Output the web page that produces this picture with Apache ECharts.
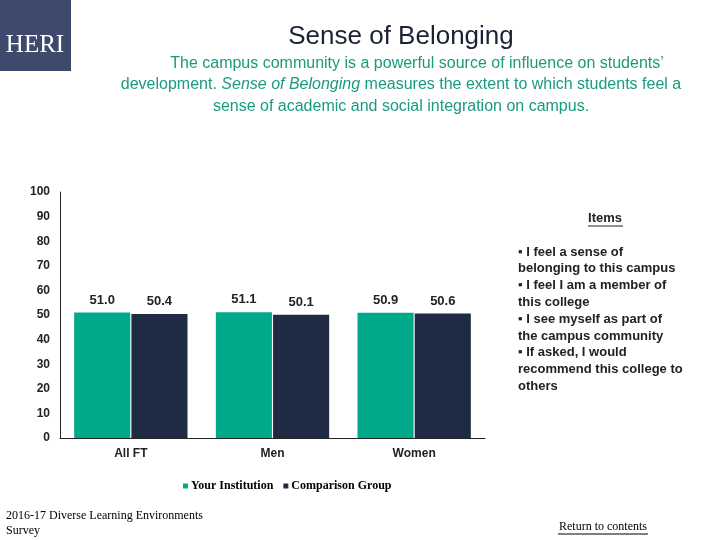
<!DOCTYPE html>
<html>
<head>
<meta charset="utf-8">
<script src="https://cdn.jsdelivr.net/npm/echarts@6/dist/echarts.min.js"></script>
<style>html,body{margin:0;padding:0;background:#fff;}#c{width:720px;height:540px;}</style>
</head>
<body>
<div id="c"></div>
<script>
const categories = ['All FT', 'Men', 'Women'];
const yourInstitution = [51.0, 51.1, 50.9];
const comparisonGroup = [50.4, 50.1, 50.6];
const seriesNames = ['Your Institution', 'Comparison Group'];
const itemLines = [
  '▪ I feel a sense of',
  'belonging to this campus',
  '▪ I feel I am a member of',
  'this college',
  '▪ I see myself as part of',
  'the campus community',
  '▪ If asked, I would',
  'recommend this college to',
  'others'
];

const chart = echarts.init(document.getElementById('c'));
const teal = '#1a9a7e';
const sans = 'Liberation Sans, Arial, sans-serif';
const serif = 'Liberation Serif, Times New Roman, serif';

const labelStyle = {
  show: true, position: 'top', distance: 6,
  fontFamily: sans, fontSize: 13, fontWeight: 'bold', color: '#222',
  formatter: p => p.value.toFixed(1)
};

const graphics = [
  { type: 'rect', shape: { x: 0, y: 0, width: 71, height: 71 }, style: { fill: '#3e4a6b' } },
  { type: 'text', x: 35, y: 45, style: { text: 'HERI', fill: '#fff', font: '25px ' + serif, textAlign: 'center', textVerticalAlign: 'middle' } },
  { type: 'text', x: 605, y: 218, style: { text: 'Items', fill: '#222', font: 'bold 13px ' + sans, textAlign: 'center', textVerticalAlign: 'middle' } },
  { type: 'line', shape: { x1: 588, y1: 226, x2: 623, y2: 226 }, style: { stroke: '#222', lineWidth: 1 } },
  { type: 'text', left: 6, top: 508, style: { text: '2016-17 Diverse Learning Environments\nSurvey', fill: '#000', font: '12px ' + serif, lineHeight: 15 } },
  { type: 'text', x: 603, y: 527, style: { text: 'Return to contents', fill: '#000', font: '12px ' + serif, textAlign: 'center', textVerticalAlign: 'middle' } },
  { type: 'line', shape: { x1: 558, y1: 534, x2: 648, y2: 534 }, style: { stroke: '#000', lineWidth: 1 } }
];
itemLines.forEach((t, i) => {
  graphics.push({ type: 'text', x: 518, y: 252 + i * 16.8, style: { text: t, fill: '#222', font: 'bold 13px ' + sans, textVerticalAlign: 'middle' } });
});

chart.setOption({
  animation: false,
  title: [
    { text: 'Sense of Belonging', left: 396, top: 19, textAlign: 'center',
      textStyle: { fontFamily: sans, fontSize: 26, fontWeight: 'normal', color: '#1a2233' } },
    { text: 'The campus community is a powerful source of influence on students’', left: 412, top: 51, textAlign: 'center',
      textStyle: { fontFamily: sans, fontSize: 16, fontWeight: 'normal', color: teal } },
    { text: '{n|development. }{i|Sense of Belonging}{n| measures the extent to which students feel a}', left: 396, top: 72, textAlign: 'center',
      textStyle: { rich: {
        n: { fontFamily: sans, fontSize: 16, fontWeight: 'normal', color: teal },
        i: { fontFamily: sans, fontSize: 16, fontWeight: 'normal', fontStyle: 'italic', color: teal }
      } } },
    { text: 'sense of academic and social integration on campus.', left: 396, top: 94, textAlign: 'center',
      textStyle: { fontFamily: sans, fontSize: 16, fontWeight: 'normal', color: teal } }
  ],
  legend: {
    left: 178, top: 475,
    itemWidth: 5, itemHeight: 5, itemGap: 10, icon: 'rect',
    textStyle: { fontFamily: serif, fontSize: 12, fontWeight: 'bold', color: '#000', padding: [0, 0, 0, -2] },
    data: seriesNames
  },
  grid: { left: 60, right: 235, top: 192, bottom: 102 },
  xAxis: {
    type: 'category', data: categories,
    axisLine: { lineStyle: { color: '#222', width: 1 } },
    axisTick: { show: false },
    axisLabel: { fontFamily: sans, fontSize: 12, fontWeight: 'bold', color: '#222', margin: 10 }
  },
  yAxis: {
    type: 'value', min: 0, max: 100, interval: 10,
    axisLine: { show: true, lineStyle: { color: '#222', width: 1 } },
    axisTick: { show: false },
    splitLine: { show: false },
    axisLabel: { fontFamily: sans, fontSize: 12, fontWeight: 'bold', color: '#222', margin: 10 }
  },
  series: [
    { name: seriesNames[0], type: 'bar', data: yourInstitution, barGap: '2%', barCategoryGap: '20%',
      itemStyle: { color: '#00a98a' }, label: labelStyle },
    { name: seriesNames[1], type: 'bar', data: comparisonGroup,
      itemStyle: { color: '#1f2a44' }, label: labelStyle }
  ],
  graphic: graphics
});
</script>
</body>
</html>
